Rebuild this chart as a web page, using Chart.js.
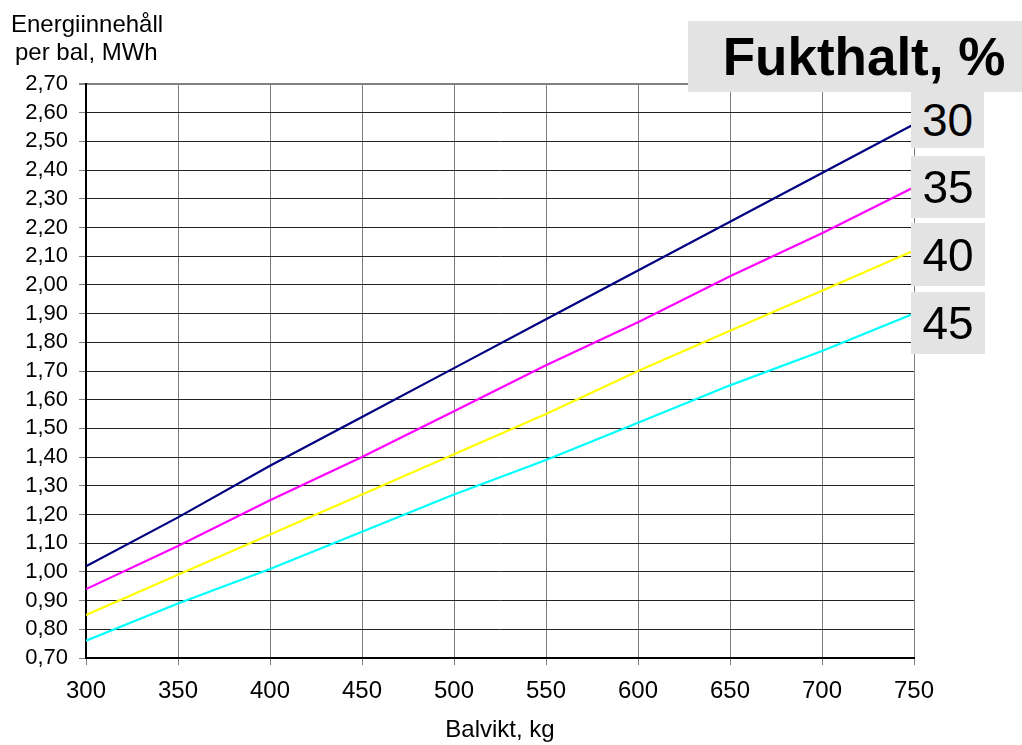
<!DOCTYPE html>
<html>
<head>
<meta charset="utf-8">
<script src="https://cdn.jsdelivr.net/npm/chart.js@4/dist/chart.umd.min.js"></script>
<style>
  body { margin: 0; background: #fff; font-family: "Liberation Sans", Arial, sans-serif; }
  #wrap { position: relative; width: 1022px; height: 745px; }
  .ytitle { position: absolute; left: 11px; font-size: 24px; color: #000; line-height: 1; white-space: nowrap; }
  .box { position: absolute; background: #e3e3e3; color: #000; display: flex; align-items: center; justify-content: center; white-space: nowrap; }
</style>
</head>
<body>
<div id="wrap">
  <canvas id="grafica"></canvas>
  <div class="ytitle" style="top:12px;">Energiinnehåll</div>
  <div class="ytitle" style="top:40px;left:15px;">per bal, MWh</div>
  <div class="box" style="left:688px;top:21px;width:334px;height:71px;font-size:53px;font-weight:bold;padding-left:18px;box-sizing:border-box;">Fukthalt, %</div>
  <div class="box" style="left:911px;top:92px;width:73px;height:56px;font-size:46px;">30</div>
  <div class="box" style="left:911px;top:156px;width:74px;height:62px;font-size:46px;">35</div>
  <div class="box" style="left:911px;top:223px;width:74px;height:63px;font-size:46px;">40</div>
  <div class="box" style="left:911px;top:292px;width:74px;height:62px;font-size:46px;">45</div>
</div>
<script>
const balvikt = [300, 350, 400, 450, 500, 550, 600, 650, 700, 750];
const fukt30 = [1.02, 1.19, 1.37, 1.54, 1.71, 1.88, 2.05, 2.22, 2.39, 2.56];
const fukt35 = [0.94, 1.09, 1.25, 1.40, 1.56, 1.72, 1.87, 2.03, 2.18, 2.34];
const fukt40 = [0.85, 0.99, 1.13, 1.27, 1.41, 1.55, 1.70, 1.84, 1.98, 2.12];
const fukt45 = [0.76, 0.89, 1.01, 1.14, 1.27, 1.39, 1.52, 1.65, 1.77, 1.90];

const grafica = document.getElementById('grafica');
grafica.width = 1022;
grafica.height = 745;

function serie(label, values, color) {
  return {
    label: label,
    data: values.map((v, i) => ({ x: balvikt[i], y: v })),
    borderColor: color,
    backgroundColor: color,
    borderWidth: 2.2,
    pointRadius: 0,
    tension: 0
  };
}

let myChart = new Chart(grafica, {
  type: 'line',
  data: {
    datasets: [
      serie('30', fukt30, '#000080'),
      serie('35', fukt35, '#ff00ff'),
      serie('40', fukt40, '#ffff00'),
      serie('45', fukt45, '#00ffff')
    ]
  },
  options: {
    responsive: false,
    animation: false,
    layout: { padding: { top: 84, right: 108, left: 0, bottom: 0 } },
    scales: {
      x: {
        type: 'linear',
        min: 300,
        max: 750,
        afterFit: (s) => { s.height = 87; },
        ticks: {
          stepSize: 50,
          autoSkip: false,
          color: '#000',
          padding: 12,
          font: { family: 'Liberation Sans', size: 24 }
        },
        grid: { color: '#808080', lineWidth: 1, tickLength: 7, tickColor: '#808080' },
        border: { color: '#000', width: 2 },
        title: {
          display: true,
          text: 'Balvikt, kg',
          color: '#000',
          padding: { top: 0, bottom: 0 },
          font: { family: 'Liberation Sans', size: 24 }
        }
      },
      y: {
        min: 0.7,
        max: 2.7,
        afterFit: (s) => { s.width = 86; },
        ticks: {
          stepSize: 0.1,
          autoSkip: false,
          color: '#000',
          padding: 11,
          font: { family: 'Liberation Sans', size: 22 },
          callback: (v) => Number(v).toFixed(2).replace('.', ',')
        },
        grid: {
          color: (ctx) => (ctx.tick && Math.abs(ctx.tick.value - 2.7) < 1e-6) ? '#808080' : '#222',
          lineWidth: (ctx) => (ctx.tick && Math.abs(ctx.tick.value - 2.7) < 1e-6) ? 2 : 1,
          tickLength: 7,
          tickColor: '#808080'
        },
        border: { color: '#000', width: 2 }
      }
    },
    plugins: {
      legend: { display: false },
      tooltip: { enabled: false }
    }
  }
});
</script>
</body>
</html>
